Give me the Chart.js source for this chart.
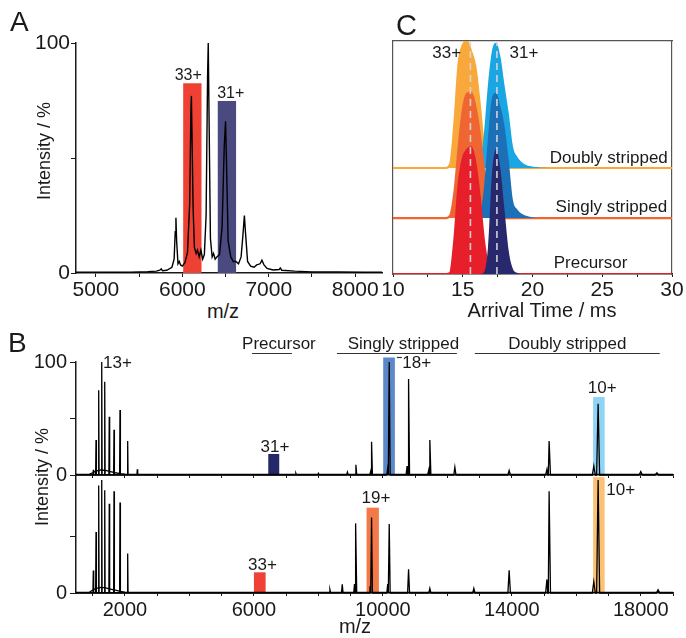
<!DOCTYPE html>
<html>
<head>
<meta charset="utf-8">
<script src="https://cdn.jsdelivr.net/npm/chart.js@4.4.1/dist/chart.umd.min.js"></script>
<style>
  body { margin: 0; background: #fff; }
  #fig { position: relative; width: 686px; height: 638px; overflow: hidden;
         font-family: 'Liberation Sans', Arial, Helvetica, sans-serif; color: #1a1a1a; }
  #fig canvas { position: absolute; }
  .lbl { position: absolute; white-space: nowrap; line-height: 1; }
  .mid { transform: translateX(-50%); }
  .rot { transform: translate(-50%, -50%) rotate(-90deg); }
</style>
</head>
<body>
<div id="fig">
  <canvas id="cA" width="392" height="300" style="left:0;top:0"></canvas>
  <canvas id="cC" width="326" height="300" style="left:360px;top:0"></canvas>
  <canvas id="cB1" width="686" height="170" style="left:0;top:330px"></canvas>
  <canvas id="cB2" width="686" height="188" style="left:0;top:450px"></canvas>

  <div class="lbl" style="left:10px;top:8px;font-size:28px">A</div>
  <div class="lbl" style="left:396px;top:11px;font-size:29px">C</div>
  <div class="lbl" style="left:8px;top:329px;font-size:28px">B</div>

  <div class="lbl mid" style="left:223px;top:301px;font-size:20px">m/z</div>
  <div class="lbl mid" style="left:542px;top:300px;font-size:20px">Arrival Time / ms</div>
  <div class="lbl mid" style="left:355px;top:616px;font-size:20px">m/z</div>
  <div class="lbl rot" style="left:44px;top:151px;font-size:18px">Intensity / %</div>
  <div class="lbl rot" style="left:42px;top:477px;font-size:18px">Intensity / %</div>
</div>

<script>
// ---- A: precursor spectrum
const specA_mz  = [4770, 5000, 5200, 5400, 5500, 5600, 5700, 5740, 5756, 5770, 5820, 5880, 5905, 5918, 5926, 5934,
                   5950, 5965, 5980, 6000, 6030, 6060, 6085, 6100, 6105, 6112, 6125, 6140, 6160, 6175, 6195, 6215,
                   6235, 6255, 6275, 6292, 6300, 6310, 6325, 6345, 6361, 6380, 6400, 6430, 6460, 6485, 6500, 6510,
                   6530, 6560, 6590, 6620, 6650, 6680, 6700, 6718, 6730, 6755, 6790, 6830, 6860, 6900, 6921, 6945,
                   6980, 7050, 7120, 7133, 7150, 7300, 7500, 7800, 8100, 8310];
const specA_int = [0.4, 0.4, 0.3, 0.4, 0.5, 0.6, 0.8, 1.2, 1.8, 1.0, 1.2, 2.5, 6, 18, 24, 14,
                   4, 5, 3.5, 3, 4.5, 9, 30, 72, 77, 60, 28, 11, 8.5, 10, 7, 10,
                   6, 8, 25, 85, 100, 65, 15, 7, 8.5, 6, 7, 8, 20, 55, 66, 50,
                   14, 7, 5, 5, 4, 7, 16, 25, 18, 5, 3, 2.5, 3.5, 4, 5.6, 3.5,
                   2, 1.3, 1.5, 2.2, 1.2, 0.8, 0.5, 0.5, 0.3, 0.4];
const isoA_lo  = [6010, 6410];
const isoA_hi  = [6222, 6622];
const isoA_top = [82.5, 74.8];
const isoA_lbl = ['33+', '31+'];
const mzLabelsA = [5000, 6000, 7000, 8000];

// ---- C: arrival time distributions (normalised to 100)
const atdTime   = [10, 13.8, 14.1, 14.4, 14.7, 15.0, 15.3, 15.6, 15.9, 16.2, 16.5, 16.8,
                   17.1, 17.4, 17.7, 18.0, 18.3, 18.6, 18.9, 19.3, 19.8, 20.5, 22, 30];
const atdDoubly33 = [0, 0, 3, 35, 82, 97, 100, 92, 80, 52, 19, 4, 0, 0, 0, 0, 0, 0, 0, 0, 0, 0, 0, 0];
const atdDoubly31 = [0, 0, 0, 0, 0, 0, 0, 0, 0, 3, 25, 65, 93, 99, 88, 65, 43, 17, 9, 4, 1.5, 0.5, 0, 0];
const atdSingly33 = [0, 0, 2, 20, 55, 85, 98, 99, 88, 68, 40, 15, 3, 0, 0, 0, 0, 0, 0, 0, 0, 0, 0, 0];
const atdSingly31 = [0, 0, 0, 0, 0, 0, 0, 0, 0, 2, 22, 62, 95, 99, 88, 72, 45, 14, 7, 3, 1, 0, 0, 0];
const atdPrec33   = [0, 0, 1, 27, 70, 91, 98, 100, 88, 62, 28, 7, 1, 0, 0, 0, 0, 0, 0, 0, 0, 0, 0, 0];
const atdPrec31   = [0, 0, 0, 0, 0, 0, 0, 0, 0, 0, 1, 20, 80, 99, 83, 50, 18, 4, 1, 0, 0, 0, 0, 0];
const baseDoubly = 83.7, baseSingly = 44.2, basePrec = 0;
const atdCentroid = [15.55, 17.45];
const timeLabelsC = [10, 15, 20, 25, 30];

// ---- B: stripping spectra, 31+ (upper) and 33+ (lower)
const peaksUp_mz  = [1017, 1101, 1184, 1278, 1371, 1512, 1659, 1845, 2083, 2382, 7300, 8000, 8900,
                     9163, 9620, 9649, 10150, 10197, 10750, 10797, 11420, 11457, 12233,
                     13917, 15090, 15157, 16543, 16677, 18000, 18500];
const peaksUp_int = [4.5, 31, 75, 100, 82.5, 51.6, 40, 57.5, 30, 5, 1.5, 1.5, 2.5,
                     9, 3, 29.5, 6, 100, 8, 85, 4, 31, 7,
                     4, 5, 30, 8, 63, 3, 2];
const peaksLo_mz  = [1017, 1101, 1184, 1278, 1371, 1512, 1659, 1845, 2083, 8357, 8740,
                     9120, 9163, 9600, 9649, 10150, 10197, 10797, 11457,
                     12822, 13917, 15090, 15157, 16543, 16677, 18537];
const peaksLo_int = [20, 54, 95, 100, 91, 79, 90, 80, 35, 3, 7.7,
                     8, 61.6, 6, 66.7, 8, 61, 21, 4,
                     4, 20, 12, 90, 10, 100, 3];
const humpMz  = [480, 900, 1000, 1100, 1250, 1400, 1550, 1700, 1850, 2000, 2300, 19000];
const humpUp  = [0.5, 0.8, 2, 3.5, 4.5, 4, 3, 2, 1.2, 0.8, 0.5, 0.5];
const humpLo  = [0.5, 0.8, 2.5, 4, 5, 4.5, 3.5, 2.5, 1.5, 0.8, 0.5, 0.5];
const isoUp_lo  = [6444, 10010, 16521];
const isoUp_hi  = [6785, 10372, 16880];
const isoUp_top = [18.6, 104, 69];
const isoLo_lo  = [6000, 9494, 16521];
const isoLo_hi  = [6362, 9876, 16880];
const isoLo_top = [18.3, 75.5, 102.5];
const mzLabelsB = [2000, 6000, 10000, 14000, 18000];

const INK = '#1a1a1a';
const FONT = "'Liberation Sans', Arial, Helvetica, sans-serif";

Chart.defaults.font.family = FONT;
Chart.defaults.color = INK;
Chart.defaults.animation = false;
Chart.defaults.responsive = false;
Chart.defaults.plugins.legend.display = false;
Chart.defaults.plugins.tooltip.enabled = false;
Chart.defaults.elements.point.radius = 0;

// highlight boxes under the traces, text and rules on top
const overlays = {
  id: 'overlays',
  beforeDatasetsDraw(chart, args, opts) {
    const { ctx, scales: { x, y } } = chart;
    ctx.save();
    (opts.spans || []).forEach(s => {
      const x0 = x.getPixelForValue(s.lo), x1 = x.getPixelForValue(s.hi);
      const y0 = y.getPixelForValue(0), y1 = y.getPixelForValue(s.top);
      ctx.fillStyle = s.color;
      ctx.fillRect(x0, y1, x1 - x0, y0 - y1);
    });
    ctx.restore();
  },
  afterDatasetsDraw(chart, args, opts) {
    const { ctx, scales: { x, y } } = chart;
    ctx.save();
    ctx.fillStyle = INK;
    ctx.strokeStyle = '#333';
    ctx.lineWidth = 1.2;
    ctx.font = (opts.size || 17) + 'px ' + FONT;
    ctx.textBaseline = 'alphabetic';
    (opts.texts || []).forEach(t => {
      ctx.textAlign = t.align || 'center';
      ctx.fillText(t.text, x.getPixelForValue(t.x), y.getPixelForValue(t.y));
    });
    (opts.rules || []).forEach(r => {
      const yy = Math.round(y.getPixelForValue(r.y)) + 0.5;
      ctx.beginPath();
      ctx.moveTo(x.getPixelForValue(r.from), yy);
      ctx.lineTo(x.getPixelForValue(r.to), yy);
      ctx.stroke();
    });
    ctx.restore();
  }
};

const xy = (xs, ys, off = 0) => xs.map((v, i) => ({ x: v, y: ys[i] + off }));

// thin stick peaks for the wide-range spectra
function sticks(mz, inten) {
  const pts = [{ x: humpMz[0], y: 0 }];
  mz.forEach((m, i) => {
    const w = Math.max(12, m * 0.0028);
    pts.push({ x: m - w, y: 0 }, { x: m, y: inten[i] }, { x: m + w, y: 0 });
  });
  pts.push({ x: humpMz[humpMz.length - 1], y: 0 });
  return pts.sort((a, b) => a.x - b.x);
}

const spans = (lo, hi, top, colors) => lo.map((v, i) => ({ lo: v, hi: hi[i], top: top[i], color: colors[i] }));

// every step inside [min, max]; labels only where listed
function xAxis(min, max, step, labels, opts = {}) {
  return {
    type: 'linear', min, max,
    afterFit: s => { s.height = opts.height; },
    afterBuildTicks: s => {
      const t = [];
      for (let v = Math.ceil(min / step - 1e-9) * step; v <= max + 1e-9; v += step) {
        t.push({ value: Math.round(v * 100) / 100 });
      }
      s.ticks = t;
    },
    border: { display: true, color: INK, width: 1.5 },
    grid: { display: true, drawOnChartArea: false, drawTicks: true, tickLength: opts.tick || 3, color: INK, lineWidth: 1 },
    ticks: {
      display: opts.labels !== false, autoSkip: false, maxRotation: 0, minRotation: 0,
      padding: opts.pad || 1, color: INK, font: { size: opts.size || 20 },
      callback: v => (labels.includes(v) ? String(v) : '')
    }
  };
}

function yAxis(max, width, labels, opts = {}) {
  return {
    min: 0, max,
    afterFit: s => { s.width = width; },
    afterBuildTicks: opts.limit ? (s => { s.ticks = s.ticks.filter(t => t.value <= opts.limit); }) : undefined,
    border: { display: true, color: INK, width: 1.5 },
    grid: { display: true, drawOnChartArea: false, drawTicks: true, tickLength: opts.tick || 5, color: INK, lineWidth: 1 },
    ticks: {
      stepSize: 50, padding: opts.pad || 1, color: INK, font: { size: opts.size || 20 },
      callback: v => (labels.includes(v) ? String(v) : '')
    }
  };
}

const specLine = (data, width = 1.3) => ({
  data, borderColor: '#000', borderWidth: width, tension: 0, fill: false, clip: false
});

// ---------- panel A
new Chart(document.getElementById('cA'), {
  type: 'line',
  data: { datasets: [specLine(xy(specA_mz, specA_int), 1.4)] },
  options: {
    parsing: false,
    layout: { padding: { left: 0, top: 43, right: 10, bottom: 0 } },
    scales: {
      x: xAxis(4770, 8310, 500, mzLabelsA, { height: 27, size: 21, tick: 4, pad: 0 }),
      y: yAxis(100, 76, [0, 100], { size: 21, tick: 5, pad: 1 })
    },
    plugins: {
      overlays: {
        size: 16,
        spans: spans(isoA_lo, isoA_hi, isoA_top, ['#ee4134', '#4b4a80']),
        texts: [
          { text: isoA_lbl[0], x: 6068, y: isoA_top[0] + 1.5 },
          { text: isoA_lbl[1], x: 6560, y: isoA_top[1] + 1.5 }
        ]
      }
    }
  },
  plugins: [overlays]
});

// ---------- panel C
const atdSet = (vals, base, color, line) => ({
  data: xy(atdTime, vals, base),
  borderColor: color, backgroundColor: color, borderWidth: line ? 2.2 : 0,
  fill: { value: base }, cubicInterpolationMode: 'monotone'
});
const dashSet = t => ({
  data: [{ x: t, y: 0 }, { x: t, y: 184 }],
  borderColor: 'rgba(215,215,215,0.95)', borderWidth: 1.6, borderDash: [7, 5], fill: false
});

new Chart(document.getElementById('cC'), {
  type: 'line',
  data: {
    datasets: [
      dashSet(atdCentroid[0]), dashSet(atdCentroid[1]),
      atdSet(atdPrec31, basePrec, '#28296c', false),
      atdSet(atdPrec33, basePrec, '#e71f2a', true),
      atdSet(atdSingly31, baseSingly, '#1b70b7', false),
      atdSet(atdSingly33, baseSingly, '#ef6633', true),
      atdSet(atdDoubly31, baseDoubly, '#1aa5e3', false),
      atdSet(atdDoubly33, baseDoubly, '#f9a93c', true)
    ]
  },
  options: {
    parsing: false,
    layout: { padding: { left: 0, top: 41, right: 14, bottom: 0 } },
    scales: {
      x: xAxis(10, 30, 2.5, timeLabelsC, { height: 26, size: 21, tick: 3, pad: 0 }),
      y: {
        min: 0, max: 184, afterFit: s => { s.width = 33; },
        border: { display: true, color: '#555', width: 1.2 },
        grid: { display: false }, ticks: { display: false }
      },
      xt: {
        type: 'linear', position: 'top', min: 10, max: 30, afterFit: s => { s.height = 0; },
        border: { display: true, color: '#555', width: 1.2 },
        grid: { display: true, drawOnChartArea: false, drawTicks: false }, ticks: { display: false }
      },
      yr: {
        position: 'right', min: 0, max: 1, afterFit: s => { s.width = 0; },
        border: { display: true, color: '#555', width: 1.2 },
        grid: { display: true, drawOnChartArea: false, drawTicks: false }, ticks: { display: false }
      }
    },
    plugins: {
      overlays: {
        size: 17,
        texts: [
          { text: '33+', x: 13.85, y: 170.6 },
          { text: '31+', x: 19.39, y: 170.6 },
          { text: 'Doubly stripped', x: 29.7, y: 87.9, align: 'right' },
          { text: 'Singly stripped', x: 29.65, y: 49, align: 'right' },
          { text: 'Precursor', x: 24.16, y: 4.7 }
        ]
      }
    }
  },
  plugins: [overlays]
});

// ---------- panel B, upper trace (31+ stripped)
new Chart(document.getElementById('cB1'), {
  type: 'line',
  data: { datasets: [specLine(sticks(peaksUp_mz, peaksUp_int)), specLine(xy(humpMz, humpUp))] },
  options: {
    parsing: false,
    layout: { padding: { left: 0, top: 32, right: 13, bottom: 0 } },
    scales: {
      x: xAxis(480, 19000, 1000, mzLabelsB, { height: 25, labels: false }),
      y: yAxis(100, 76, [0, 100], { tick: 6, pad: 3 })
    },
    plugins: {
      overlays: {
        size: 17,
        spans: spans(isoUp_lo, isoUp_hi, isoUp_top, ['#25276b', '#5a88c8', '#8fd4f5']),
        texts: [
          { text: '13+', x: 1767, y: 94.7 },
          { text: '31+', x: 6651, y: 20.4 },
          { text: '18+', x: 10600, y: 94.7, align: 'left' },
          { text: '10+', x: 16806, y: 72.6 },
          { text: 'Precursor', x: 6775, y: 111.5 },
          { text: 'Singly stripped', x: 10636, y: 111.5 },
          { text: 'Doubly stripped', x: 15721, y: 111.5 }
        ],
        rules: [
          { from: 5938, to: 7178, y: 108 },
          { from: 8574, to: 12295, y: 108 },
          { from: 12853, to: 18589, y: 108 },
          { from: 10434, to: 10589, y: 104.7 }
        ]
      }
    }
  },
  plugins: [overlays]
});

// ---------- panel B, lower trace (33+ stripped)
new Chart(document.getElementById('cB2'), {
  type: 'line',
  data: { datasets: [specLine(sticks(peaksLo_mz, peaksLo_int)), specLine(xy(humpMz, humpLo))] },
  options: {
    parsing: false,
    layout: { padding: { left: 0, top: 25, right: 13, bottom: 0 } },
    scales: {
      x: xAxis(480, 19000, 1000, mzLabelsB, { height: 45, pad: 2 }),
      y: yAxis(104.4, 76, [0], { tick: 6, pad: 3, limit: 50 })
    },
    plugins: {
      overlays: {
        size: 17,
        spans: spans(isoLo_lo, isoLo_hi, isoLo_top, ['#ef4136', '#f37a48', '#fbc275']),
        texts: [
          { text: '33+', x: 6264, y: 20.6 },
          { text: '19+', x: 9783, y: 79.6 },
          { text: '10+', x: 17380, y: 86.7 }
        ]
      }
    }
  },
  plugins: [overlays]
});
</script>
</body>
</html>
